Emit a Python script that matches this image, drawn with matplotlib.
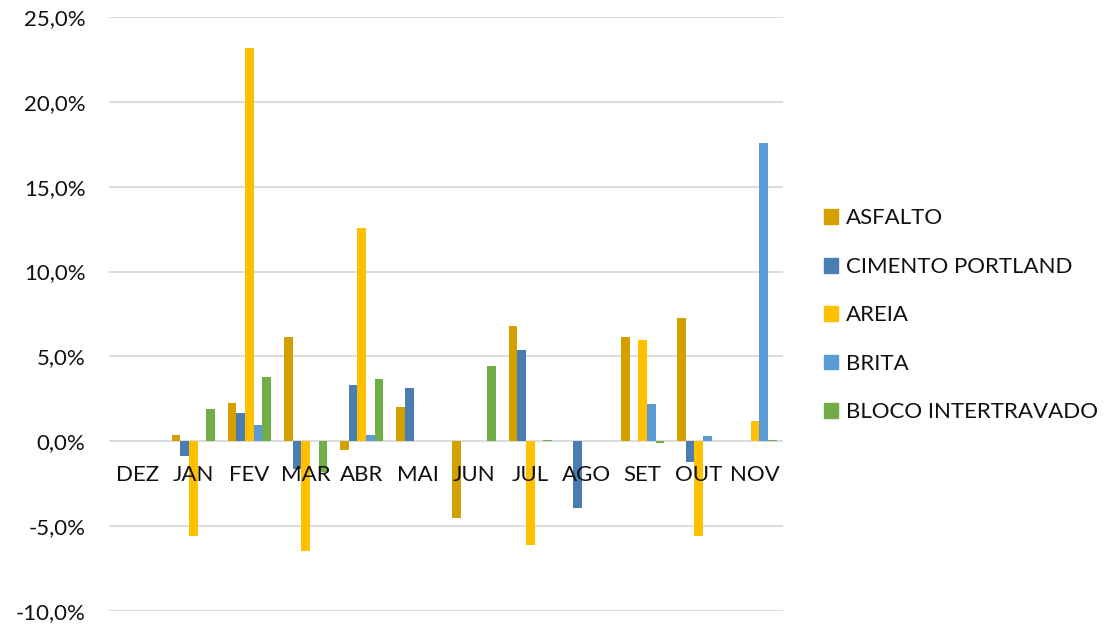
import matplotlib
matplotlib.use('Agg')
import matplotlib.pyplot as plt
from matplotlib.patches import Patch
import numpy as np

meses = ['DEZ', 'JAN', 'FEV', 'MAR', 'ABR', 'MAI', 'JUN', 'JUL', 'AGO', 'SET', 'OUT', 'NOV']

# variação mensal (%)
asfalto = [0.0, 0.38, 2.24, 6.14, -0.49, 2.03, -4.53, 6.79, 0.0, 6.16, 7.26, 0.0]
cimento = [0.0, -0.84, 1.65, -1.63, 3.33, 3.15, 0.0, 5.37, -3.91, 0.0, -1.24, 0.0]
areia = [0.0, -5.6, 23.2, -6.49, 12.58, 0.0, 0.0, -6.1, 0.0, 5.96, -5.6, 1.18]
brita = [0.0, 0.0, 0.94, 0.0, 0.36, 0.0, 0.0, 0.0, 0.0, 2.18, 0.3, 17.6]
bloco = [0.0, 1.91, 3.76, -1.83, 3.68, 0.0, 4.44, 0.1, 0.0, -0.1, 0.0, 0.1]

series = ['ASFALTO', 'CIMENTO PORTLAND', 'AREIA', 'BRITA', 'BLOCO INTERTRAVADO']
valores = [asfalto, cimento, areia, brita, bloco]
cores = ['#D4A000', '#4A7EB0', '#FFC000', '#5B9BD5', '#70AD47']

y_ticks = [-10, -5, 0, 5, 10, 15, 20, 25]
y_labels = ['-10,0%', '-5,0%', '0,0%', '5,0%', '10,0%', '15,0%', '20,0%', '25,0%']

plt.rcParams['font.family'] = ['Lato', 'DejaVu Sans']

fig = plt.figure(figsize=(11.05, 6.27), dpi=100)
ax = fig.add_axes([109 / 1105, 1 - 611 / 627, 674 / 1105, 594 / 627])

x = np.arange(len(meses))
w = 0.154
for k, (nome, vals, cor) in enumerate(zip(series, valores, cores)):
    ax.bar(x + (k - 2) * w, vals, width=w, color=cor, label=nome, zorder=2)

ax.set_xlim(-0.5, len(meses) - 0.5)
ax.set_ylim(-10, 25)
ax.set_yticks(y_ticks)
ax.set_yticklabels(y_labels, fontsize=16, color='#111111')
ax.tick_params(axis='y', length=0, pad=17)
ax.set_xticks([])
ax.grid(axis='y', color='#D9D9D9', linewidth=1.3, zorder=0)
ax.set_axisbelow(True)
for s in ax.spines.values():
    s.set_visible(False)

for i, m in enumerate(meses):
    ax.annotate(m, (i, 0), xytext=(0, -34), textcoords='offset pixels',
                ha='center', va='center', fontsize=16, color='#111111', zorder=5)

handles = [Patch(color=c, label=n) for n, c in zip(series, cores)]
fig.legend(handles=handles, loc='center left', bbox_to_anchor=(824 / 1105, 0.497),
           frameon=False, fontsize=16, handlelength=0.65, handleheight=0.65,
           handletextpad=0.35, labelspacing=1.28, borderpad=0, borderaxespad=0,
           labelcolor='#111111')

fig.savefig('out.png', dpi=100)
